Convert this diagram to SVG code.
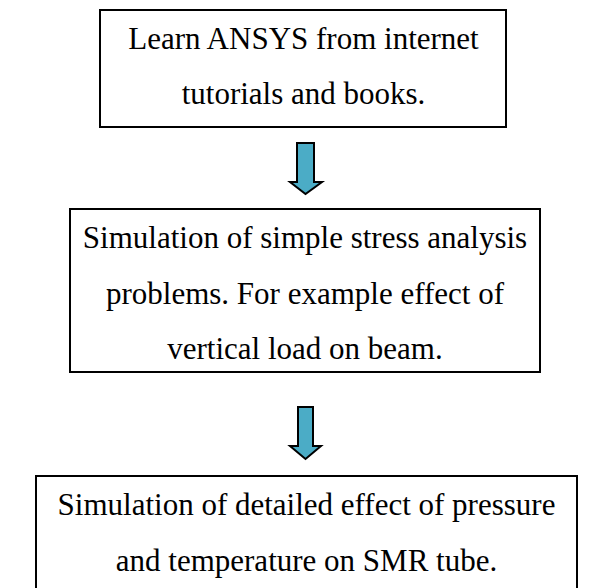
<svg xmlns="http://www.w3.org/2000/svg" width="600" height="588" viewBox="0 0 600 588">
<style>
.box{fill:#fff;stroke:#000;stroke-width:2}
.t{font-family:"Liberation Serif","Times New Roman",serif;font-size:31px;fill:#000;text-anchor:middle}
.arr{fill:#4BACC6;stroke:#000;stroke-width:2;stroke-linejoin:miter}
</style>
<rect width="600" height="588" fill="#fff"/>
<g id="node1">
<rect class="box" x="100" y="10" width="406" height="117"/>
<text class="t" x="303.5" y="49">Learn ANSYS from internet</text>
<text class="t" x="303.5" y="104">tutorials and books.</text>
</g>
<g id="node2">
<rect class="box" x="70" y="209" width="470" height="163"/>
<text class="t" x="305" y="248">Simulation of simple stress analysis</text>
<text class="t" x="305" y="304">problems. For example effect of</text>
<text class="t" x="305" y="359">vertical load on beam.</text>
</g>
<g id="node3">
<rect class="box" x="36" y="476" width="541" height="130"/>
<text class="t" x="306.5" y="515">Simulation of detailed effect of pressure</text>
<text class="t" x="306.5" y="571">and temperature on SMR tube.</text>
</g>
<g id="connectors">
<path class="arr" d="M297,143 H314 V182 H322 L305.5,194 L290,182 H297 Z"/>
<path class="arr" d="M298,407 H313 V446 H321 L305.5,459 L290,446 H298 Z"/>
</g>
</svg>
